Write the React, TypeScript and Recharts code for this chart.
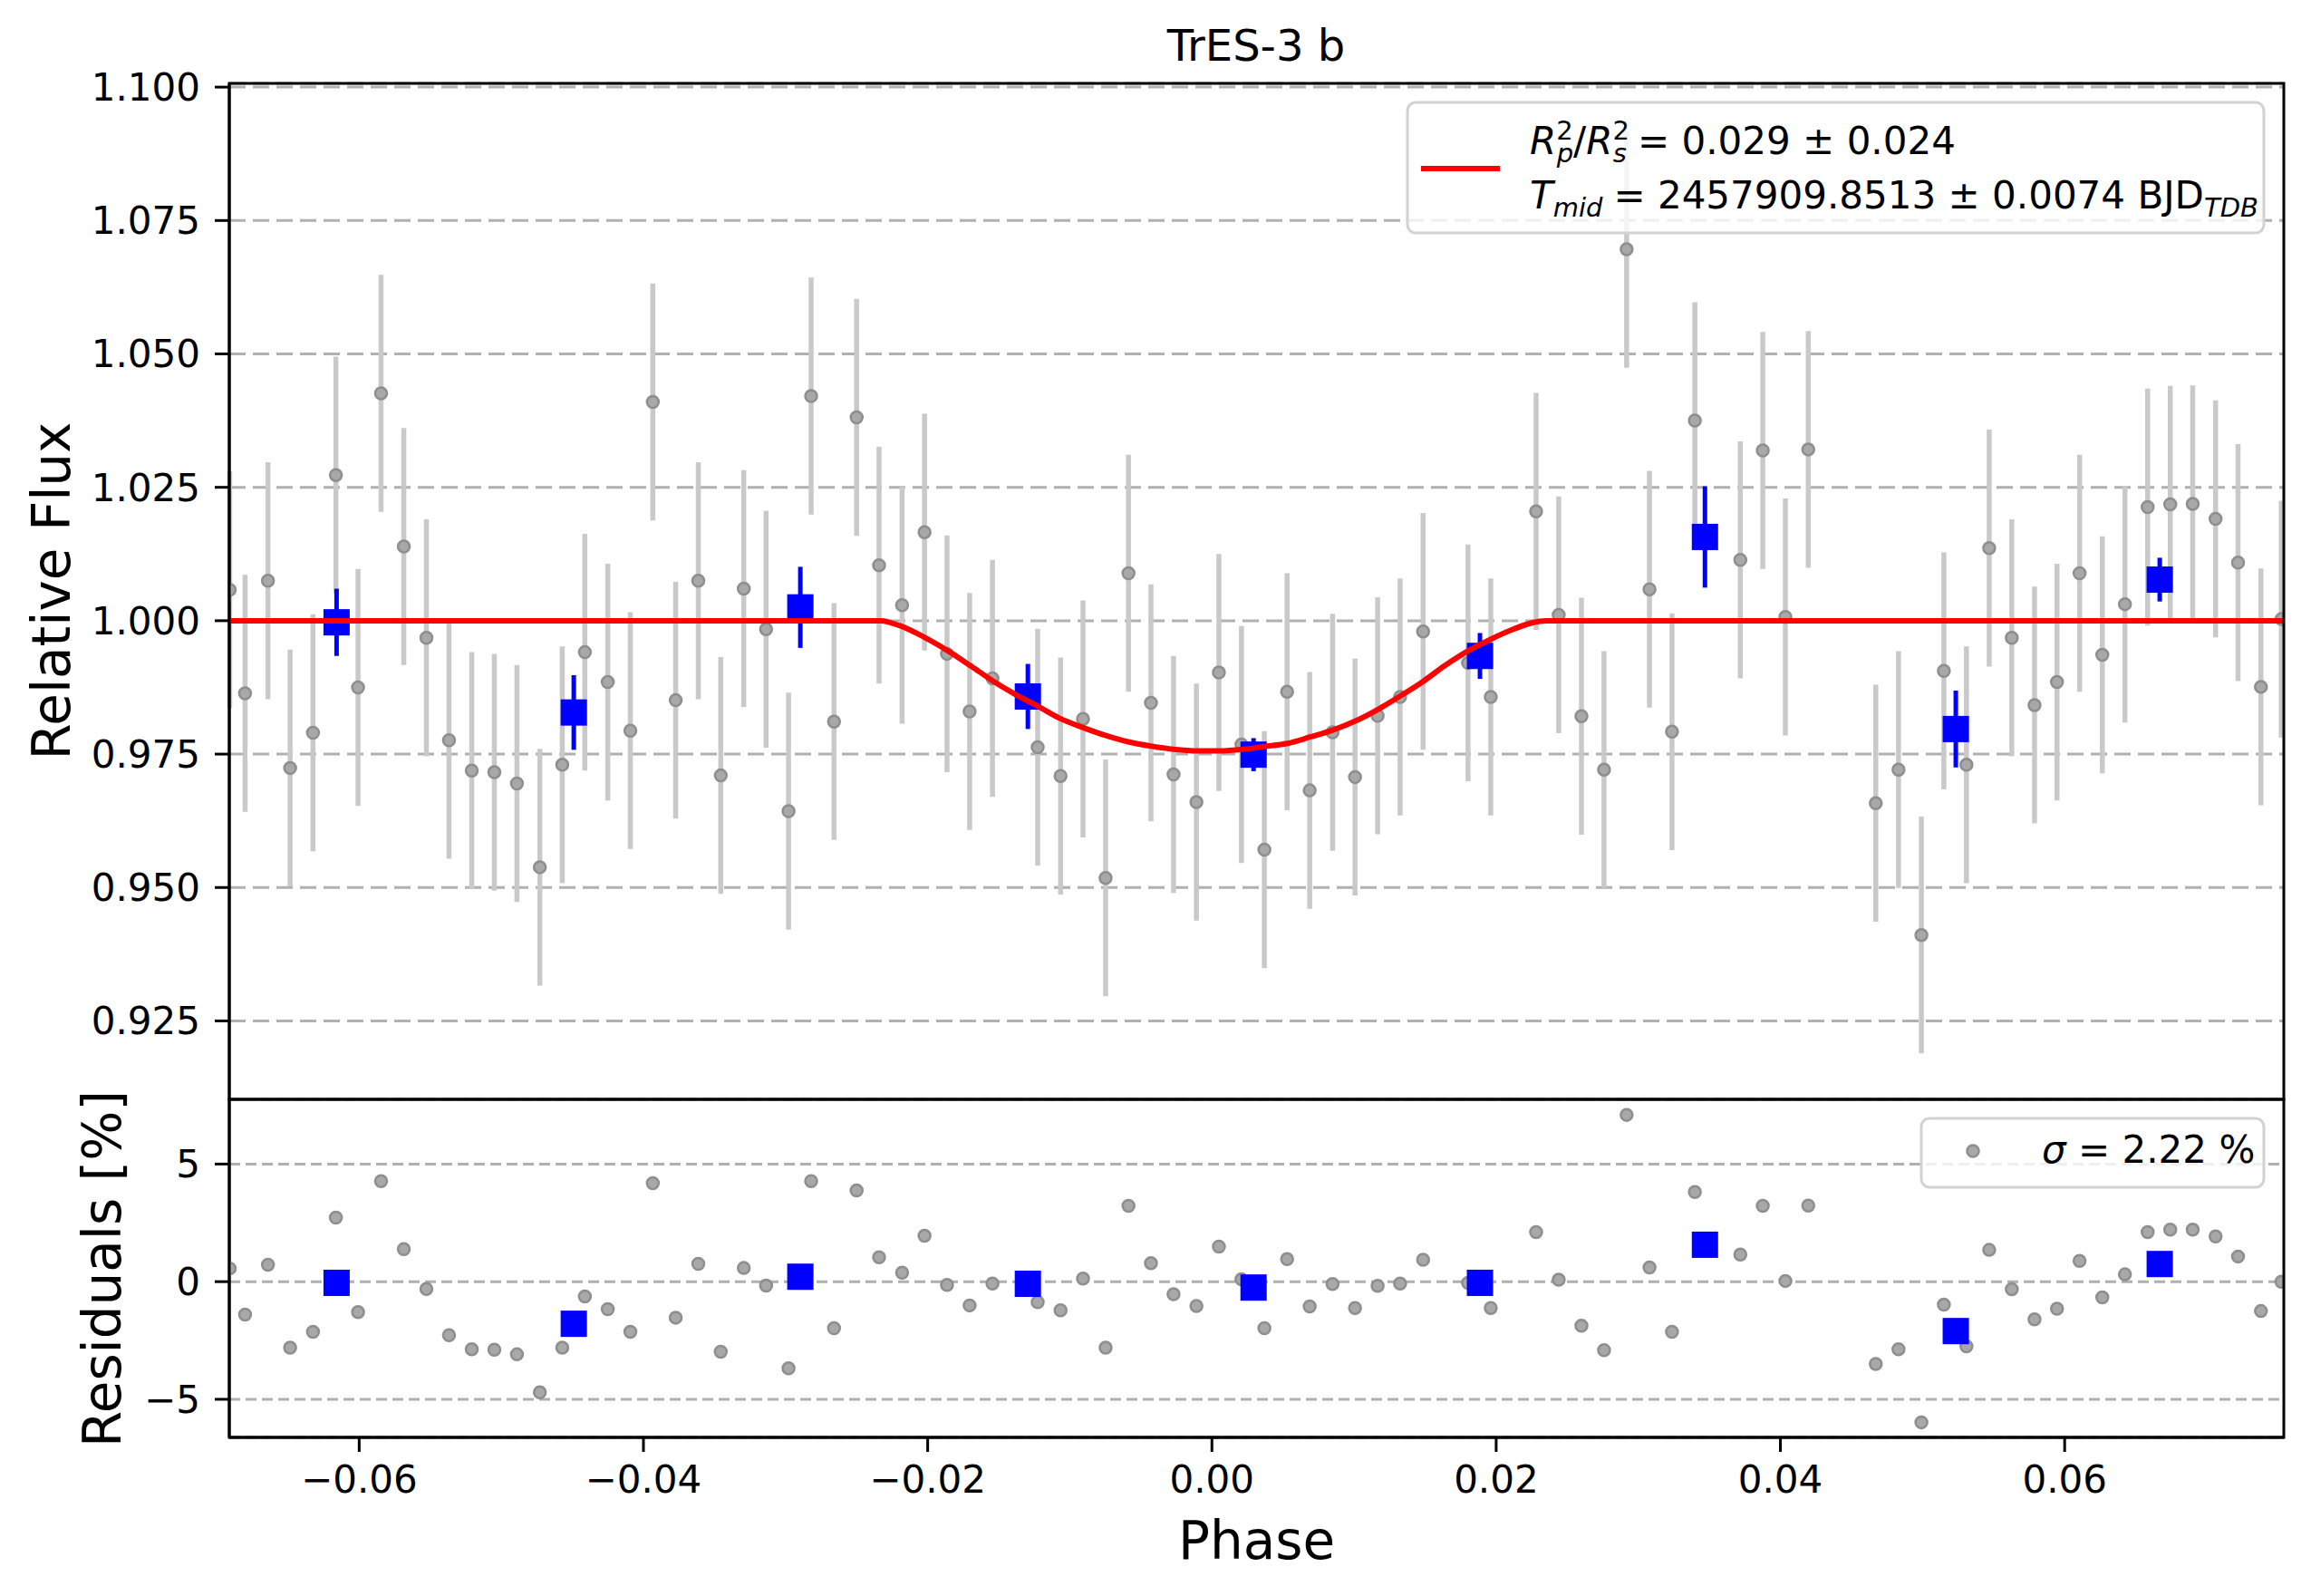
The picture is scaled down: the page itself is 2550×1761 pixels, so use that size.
import { CartesianGrid, ComposedChart, ErrorBar, Line, Scatter, XAxis, YAxis } from 'recharts';

// individual exposures (phase, relative flux, residual in %)
const greyPhase = [
  -0.06911, -0.06803, -0.06642, -0.06486, -0.06325, -0.06164, -0.06008, -0.05846, -0.05686, -0.05527,
  -0.05368, -0.05208, -0.05049, -0.0489, -0.04729, -0.04571, -0.04412, -0.04251, -0.04092, -0.03934,
  -0.03773, -0.03614, -0.03456, -0.03294, -0.03137, -0.02979, -0.0282, -0.02659, -0.025, -0.02342,
  -0.0218, -0.02022, -0.01864, -0.01705, -0.01544, -0.01226, -0.01065, -0.00907, -0.00748, -0.00587,
  -0.00429, -0.0027, -0.00109, 0.00049, 0.00208, 0.00369, 0.00529, 0.00688, 0.00849, 0.01007,
  0.01166, 0.01324, 0.01486, 0.01802, 0.01962, 0.02281, 0.0244, 0.026, 0.02759, 0.02918,
  0.03079, 0.03237, 0.03398, 0.03718, 0.03876, 0.04035, 0.04196, 0.04671, 0.04831, 0.04992,
  0.0515, 0.05309, 0.05469, 0.05628, 0.05788, 0.05946, 0.06105, 0.06265, 0.06424, 0.06584,
  0.06743, 0.06901, 0.07062, 0.0722, 0.07381, 0.07525,
];
const greyFlux = [
  1.0058, 0.9864, 1.0075, 0.9724, 0.979, 1.0273, 0.9875, 1.0426, 1.0139, 0.9968,
  0.9776, 0.9719, 0.9716, 0.9695, 0.9538, 0.973, 0.9941, 0.9885, 0.9794, 1.041,
  0.9851, 1.0075, 0.971, 1.006, 0.9984, 0.9643, 1.0421, 0.9811, 1.0381, 1.0104,
  1.0029, 1.0166, 0.9938, 0.983, 0.9892, 0.9763, 0.9709, 0.9816, 0.9518, 1.0089,
  0.9846, 0.9712, 0.966, 0.9903, 0.9768, 0.9571, 0.9867, 0.9682, 0.9791, 0.9707,
  0.9822, 0.9857, 0.998, 0.9921, 0.9857, 1.0205, 1.0011, 0.9821, 0.9721, 1.0696,
  1.0059, 0.9792, 1.0375, 1.0114, 1.0319, 1.0007, 1.0321, 0.9658, 0.9721, 0.9411,
  0.9906, 0.973, 1.0136, 0.9968, 0.9842, 0.9885, 1.0089, 0.9936, 1.0031, 1.0213,
  1.0218, 1.0219, 1.0191, 1.0109, 0.9876, 1.0003,
];
const greyResid = [
  0.56, -1.4, 0.72, -2.81, -2.13, 2.72, -1.29, 4.27, 1.38, -0.31,
  -2.28, -2.87, -2.89, -3.09, -4.7, -2.81, -0.63, -1.17, -2.13, 4.19,
  -1.53, 0.76, -2.98, 0.58, -0.17, -3.68, 4.27, -1.98, 3.88, 1.04,
  0.38, 1.95, -0.14, -1.01, -0.08, -0.87, -1.22, 0.13, -2.81, 3.22,
  0.79, -0.53, -1.03, 1.49, 0.1, -1.98, 0.96, -1.05, -0.1, -1.12,
  -0.18, -0.08, 0.93, -0.05, -1.12, 2.11, 0.08, -1.87, -2.91, 7.09,
  0.6, -2.13, 3.81, 1.15, 3.22, 0.03, 3.23, -3.5, -2.87, -5.98,
  -0.98, -2.75, 1.35, -0.32, -1.6, -1.15, 0.88, -0.67, 0.31, 2.11,
  2.21, 2.21, 1.92, 1.07, -1.25, 0.0,
];
const greyFluxErr = 0.0222;

// binned points
const binPhase = [-0.06159, -0.0449, -0.02896, -0.01295, 0.00293, 0.01886, 0.03469, 0.05234, 0.06669];
const binFlux = [0.9997, 0.9828, 1.0025, 0.9858, 0.9749, 0.9934, 1.0157, 0.9797, 1.0077];
const binFluxErr = [0.0063, 0.007, 0.0076, 0.0061, 0.0031, 0.0043, 0.0095, 0.0072, 0.0041];
const binResid = [-0.05, -1.79, 0.21, -0.09, -0.25, -0.05, 1.57, -2.1, 0.75];

// transit model
const modelPhase = [
  -0.0691, -0.0233, -0.022, -0.0203, -0.0186, -0.0169, -0.0154, -0.0139, -0.0122, -0.0107,
  -0.0091, -0.0075, -0.0059, -0.0043, -0.0027, -0.001, 0.0005, 0.0022, 0.0036, 0.0053,
  0.0069, 0.0085, 0.0101, 0.0117, 0.0132, 0.0149, 0.0164, 0.018, 0.0196, 0.0212,
  0.0225, 0.0235, 0.0754,
];
const modelFlux = [
  1.0, 1.0, 0.9991, 0.997, 0.9944, 0.9914, 0.9887, 0.9863, 0.9839, 0.9817,
  0.98, 0.9785, 0.9773, 0.9765, 0.9759, 0.9756, 0.9756, 0.9759, 0.9764, 0.977,
  0.9782, 0.9795, 0.9812, 0.9834, 0.9858, 0.9887, 0.9916, 0.9943, 0.9965, 0.9984,
  0.9996, 1.0, 1.0,
];

const phaseTicks = [-0.06, -0.04, -0.02, 0, 0.02, 0.04, 0.06];
const fluxTicks = [0.925, 0.95, 0.975, 1.0, 1.025, 1.05, 1.075, 1.1];
const residTicks = [-5, 0, 5];

const PHASE_DOMAIN: [number, number] = [-0.06914, 0.07542];
const FONT = 'DejaVu Sans';
const tickStyle = { fontSize: 42, fill: '#000', fontFamily: FONT };
const minus = (s: string) => s.replace('-', '\u2212');

// plot frame (spines), in page pixels
const PLOT_LEFT = 253;
const PLOT_RIGHT = 2520;
const FLUX_TOP = 92;
const SPLIT = 1213;
const RESID_BOTTOM = 1586;

const greyData = greyPhase.map((x, i) => ({ x, y: greyFlux[i], e: greyFluxErr }));
const binData = binPhase.map((x, i) => ({ x, y: binFlux[i], e: binFluxErr[i] }));
const modelData = modelPhase.map((x, i) => ({ x, y: modelFlux[i] }));
const greyResData = greyPhase.map((x, i) => ({ x, y: greyResid[i] }));
const binResData = binPhase.map((x, i) => ({ x, y: binResid[i] }));

const GreyDot = (p: any) => (
  <circle cx={p.cx} cy={p.cy} r={6.5} fill="#a8a8a8" stroke="#8e8e8e" strokeWidth={2.5} />
);
const BlueSquare = (p: any) => (
  <rect x={p.cx - 14.5} y={p.cy - 14.5} width={29} height={29} fill="#0000ff" />
);

function FluxPanel() {
  return (
    <ComposedChart width={2550} height={SPLIT} margin={{ top: FLUX_TOP, right: 2550 - PLOT_RIGHT, bottom: 0, left: 50 }}>
      <CartesianGrid vertical={false} stroke="#b0b0b0" strokeWidth={3} strokeDasharray="18 8" />
      <XAxis dataKey="x" type="number" domain={PHASE_DOMAIN} allowDataOverflow hide />
      <YAxis
        dataKey="y"
        type="number"
        domain={[0.9103, 1.1007]}
        allowDataOverflow
        ticks={fluxTicks}
        interval={0}
        width={PLOT_LEFT - 50}
        tickSize={16}
        tickMargin={16}
        tick={tickStyle}
        tickFormatter={(v: number) => v.toFixed(3)}
        tickLine={{ stroke: '#000', strokeWidth: 3 }}
        axisLine={{ stroke: '#000', strokeWidth: 3 }}
      />
      <Scatter data={greyData} dataKey="y" shape={GreyDot} isAnimationActive={false}>
        <ErrorBar dataKey="e" direction="y" width={0} stroke="#c9c9c9" strokeWidth={5.5} />
      </Scatter>
      <Scatter data={binData} dataKey="y" shape={BlueSquare} isAnimationActive={false} zIndex={650}>
        <ErrorBar dataKey="e" direction="y" width={0} stroke="#0000ff" strokeWidth={5} />
      </Scatter>
      <Line
        data={modelData}
        dataKey="y"
        type="monotone"
        stroke="#ff0000"
        strokeWidth={6}
        dot={false}
        activeDot={false}
        isAnimationActive={false}
        zIndex={700}
      />
    </ComposedChart>
  );
}

function ResidualPanel() {
  return (
    <ComposedChart width={2550} height={558} margin={{ top: 10, right: 2550 - PLOT_RIGHT, bottom: 0, left: 50 }}>
      <CartesianGrid vertical={false} stroke="#b0b0b0" strokeWidth={3} strokeDasharray="12 6" />
      <XAxis
        dataKey="x"
        type="number"
        domain={PHASE_DOMAIN}
        allowDataOverflow
        ticks={phaseTicks}
        interval={0}
        height={175}
        tickSize={16}
        tickMargin={15}
        tick={tickStyle}
        tickFormatter={(v: number) => minus(v.toFixed(2))}
        tickLine={{ stroke: '#000', strokeWidth: 3 }}
        axisLine={{ stroke: '#000', strokeWidth: 3 }}
      />
      <YAxis
        dataKey="y"
        type="number"
        domain={[-6.62, 7.75]}
        allowDataOverflow
        ticks={residTicks}
        interval={0}
        width={PLOT_LEFT - 50}
        tickSize={16}
        tickMargin={16}
        tick={tickStyle}
        tickFormatter={(v: number) => minus(String(v))}
        tickLine={{ stroke: '#000', strokeWidth: 3 }}
        axisLine={{ stroke: '#000', strokeWidth: 3 }}
      />
      <Scatter data={greyResData} dataKey="y" shape={GreyDot} isAnimationActive={false} />
      <Scatter data={binResData} dataKey="y" shape={BlueSquare} isAnimationActive={false} zIndex={650} />
    </ComposedChart>
  );
}

function Overlay() {
  const sub = 29;
  return (
    <svg
      width={2550}
      height={1761}
      style={{ position: 'absolute', left: 0, top: 0, pointerEvents: 'none' }}
      fontFamily={FONT}
      fill="#000"
    >
      {/* spines */}
      <rect x={PLOT_LEFT} y={FLUX_TOP} width={PLOT_RIGHT - PLOT_LEFT} height={SPLIT - FLUX_TOP} fill="none" stroke="#000" strokeWidth={3} />
      <rect x={PLOT_LEFT} y={SPLIT} width={PLOT_RIGHT - PLOT_LEFT} height={RESID_BOTTOM - SPLIT} fill="none" stroke="#000" strokeWidth={3} />

      <text x={1386} y={67} fontSize={48} textAnchor="middle">TrES-3 b</text>
      <text transform="translate(77 652) rotate(-90)" fontSize={58} textAnchor="middle">Relative Flux</text>
      <text transform="translate(133 1400) rotate(-90)" fontSize={58} textAnchor="middle">Residuals [%]</text>
      <text x={1386.5} y={1720} fontSize={58} textAnchor="middle">Phase</text>

      <rect x={1553} y={113} width={945} height={144} rx={9} fill="#fff" fillOpacity={0.8} stroke="#d2d2d2" strokeWidth={3} />
      <line x1={1568} x2={1655} y1={186} y2={186} stroke="#ff0000" strokeWidth={6} />
      <text x={1688} y={170} fontSize={42}>
        <tspan fontStyle="italic">R</tspan>
        <tspan fontSize={sub} dy={-16}>2</tspan>
        <tspan fontSize={sub} fontStyle="italic" dx={-18} dy={25}>p</tspan>
        <tspan dy={-9}>/</tspan>
        <tspan fontStyle="italic">R</tspan>
        <tspan fontSize={sub} dy={-16}>2</tspan>
        <tspan fontSize={sub} fontStyle="italic" dx={-18} dy={25}>s</tspan>
        <tspan dy={-9} dx={12}>= 0.029 ± 0.024</tspan>
      </text>
      <text x={1688} y={230} fontSize={42}>
        <tspan fontStyle="italic">T</tspan>
        <tspan fontSize={sub} fontStyle="italic" dy={9}>mid</tspan>
        <tspan dy={-9} dx={12}>= 2457909.8513 ± 0.0074 BJD</tspan>
        <tspan fontSize={sub} fontStyle="italic" dy={9}>TDB</tspan>
      </text>

      <rect x={2120} y={1234} width={378} height={76} rx={9} fill="#fff" fillOpacity={0.8} stroke="#d2d2d2" strokeWidth={3} />
      <circle cx={2177} cy={1270} r={6.5} fill="#a8a8a8" stroke="#8e8e8e" strokeWidth={2.5} />
      <text x={2253} y={1283} fontSize={42}>
        <tspan fontStyle="italic">σ</tspan>
        <tspan> = 2.22 %</tspan>
      </text>
    </svg>
  );
}

export default function App() {
  return (
    <div style={{ position: 'absolute', left: 0, top: 0, width: 2550, height: 1761, background: '#fff' }}>
      <div style={{ position: 'absolute', left: 0, top: 0 }}>
        <FluxPanel />
      </div>
      <div style={{ position: 'absolute', left: 0, top: SPLIT - 10 }}>
        <ResidualPanel />
      </div>
      <Overlay />
    </div>
  );
}
